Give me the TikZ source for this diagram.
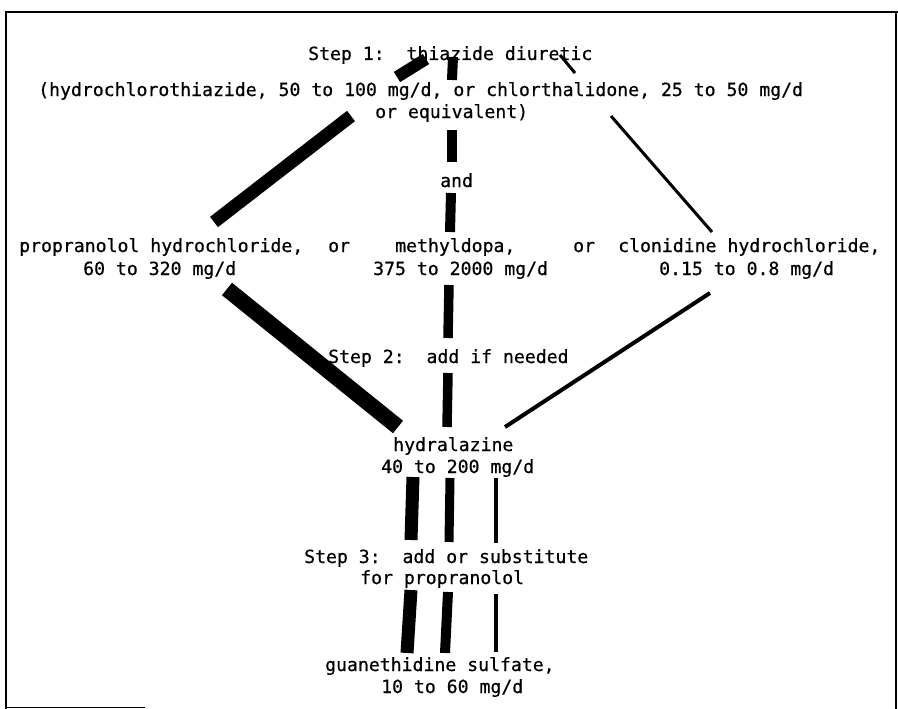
\documentclass[tikz,border=0pt]{standalone}
\usepackage{fontspec}
\newfontfamily\typew[FakeBold=0.6]{DejaVu Sans Mono}
\begin{document}
\frenchspacing
\begin{tikzpicture}[x=1pt,y=-1pt,
  txt/.style={anchor=base west, inner sep=0pt, font=\typew\fontsize{18.15}{22}\selectfont},
  bar/.style={line width=#1, line cap=butt, draw=black},
  frame/.style={line width=#1, draw=black}]
\useasboundingbox (0,0) rectangle (898,709);
% frame
\draw[frame=2.5pt] (6,709) -- (6,12) -- (898,12);
\draw[frame=2pt] (896,12) -- (896,709);
\draw[frame=1.5pt] (6,707.5) -- (145,707.5);
% texts
\node[txt] (s1) at (308,60) {Step 1:\ \ thiazide diuretic};
\node[txt] (s1b) at (38,96) {(hydrochlorothiazide, 50 to 100 mg/d, or chlorthalidone, 25 to 50 mg/d};
\node[txt] (s1c) at (375,118) {or equivalent)};
\node[txt] (and) at (440,187) {and};
\node[txt] (prop) at (19,252) {propranolol hydrochloride,};
\node[txt] (propd) at (83,275) {60 to 320 mg/d};
\node[txt] (or1) at (328,252) {or};
\node[txt] (meth) at (395,252) {methyldopa,};
\node[txt] (methd) at (373,275) {375 to 2000 mg/d};
\node[txt] (or2) at (573,252) {or};
\node[txt] (clon) at (618,252) {clonidine hydrochloride,};
\node[txt] (clond) at (659,275) {0.15 to 0.8 mg/d};
\node[txt] (s2) at (328,363) {Step 2:\ \ add if needed};
\node[txt] (hyd) at (393,451) {hydralazine};
\node[txt] (hydd) at (381,473) {40 to 200 mg/d};
\node[txt] (s3) at (304,563) {Step 3:\ \ add or substitute};
\node[txt] (s3b) at (360,584) {for propranolol};
\node[txt] (gua) at (325,671) {guanethidine sulfate,};
\node[txt] (guad) at (381,693) {10 to 60 mg/d};
% bar end points
\coordinate (b1a) at (397,77);  \coordinate (b1b) at (426,59);
\coordinate (b2a) at (453,57);  \coordinate (b2b) at (452,80);
\coordinate (b3a) at (560,55);  \coordinate (b3b) at (575,73);
\coordinate (b4a) at (351,116); \coordinate (b4b) at (214,222);
\coordinate (b5a) at (452,130); \coordinate (b5b) at (452,162);
\coordinate (b6a) at (451,193); \coordinate (b6b) at (450,232);
\coordinate (b7a) at (611,116); \coordinate (b7b) at (712,232);
\coordinate (b8a) at (227,289); \coordinate (b8b) at (398,427);
\coordinate (b9a) at (449,285); \coordinate (b9b) at (448,338);
\coordinate (b10a) at (448,373); \coordinate (b10b) at (447,427);
\coordinate (b11a) at (710,293); \coordinate (b11b) at (505,427);
\coordinate (b12a) at (413,477); \coordinate (b12b) at (411,540);
\coordinate (b13a) at (450,478); \coordinate (b13b) at (449,542);
\coordinate (b14a) at (496,478); \coordinate (b14b) at (496,543);
\coordinate (b15a) at (411,590); \coordinate (b15b) at (407,653);
\coordinate (b16a) at (448,592); \coordinate (b16b) at (445,653);
\coordinate (b17a) at (496,594); \coordinate (b17b) at (496,652);
% step 1 to drugs
\draw[bar=12pt] (b1a) -- (b1b);
\draw[bar=10pt] (b2a) -- (b2b);
\draw[bar=3pt] (b3a) -- (b3b);
\draw[bar=13pt] (b4a) -- (b4b);
\draw[bar=10pt] (b5a) -- (b5b);
\draw[bar=10pt] (b6a) -- (b6b);
\draw[bar=3pt] (b7a) -- (b7b);
% drugs to hydralazine
\draw[bar=16pt] (b8a) -- (b8b);
\draw[bar=9.5pt] (b9a) -- (b9b);
\draw[bar=9.5pt] (b10a) -- (b10b);
\draw[bar=4pt] (b11a) -- (b11b);
% hydralazine to guanethidine
\draw[bar=13pt] (b12a) -- (b12b);
\draw[bar=9pt] (b13a) -- (b13b);
\draw[bar=4pt] (b14a) -- (b14b);
\draw[bar=13pt] (b15a) -- (b15b);
\draw[bar=10pt] (b16a) -- (b16b);
\draw[bar=4pt] (b17a) -- (b17b);
\end{tikzpicture}
\end{document}
